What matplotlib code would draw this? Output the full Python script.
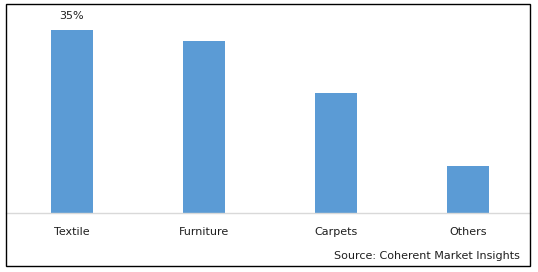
import matplotlib
matplotlib.use("Agg")
import matplotlib.pyplot as plt
from matplotlib.patches import Rectangle

categories = ["Textile", "Furniture", "Carpets", "Others"]
shares = [35, 33, 23, 9]
labelled = {0: "35%"}
source_text = "Source: Coherent Market Insights"

W, H = 538, 272
fig = plt.figure(figsize=(W / 100, H / 100), dpi=100)
fig.patch.set_facecolor("white")

def fx(px):
    return px / W

def fy(py):
    return 1 - py / H

ax = fig.add_axes([fx(6), fy(213), fx(530) - fx(6), fy(4) - fy(213)])
ax.set_facecolor("none")
x = list(range(len(categories)))
bars = ax.bar(x, shares, width=0.32, color="#5B9BD5", zorder=2)
ax.set_xlim(-0.498, 3.47)
ax.set_ylim(0, 40)
ax.set_yticks([])
ax.set_xticks(x)
ax.set_xticklabels(categories, fontsize=8, color="#1F1F1F")
ax.tick_params(axis="x", length=0, pad=10)
for s in ["top", "right", "left"]:
    ax.spines[s].set_visible(False)
ax.spines["bottom"].set_color("#D9D9D9")
ax.spines["bottom"].set_linewidth(1.0)

for i, txt in labelled.items():
    ax.annotate(txt, (x[i], shares[i]), xytext=(0, 6.5), textcoords="offset points",
                ha="center", va="bottom", fontsize=8, color="#1F1F1F")

fig.text(fx(520), fy(256), source_text, ha="right", va="center", fontsize=8, color="#1F1F1F")

fig.add_artist(Rectangle((fx(6), fy(266)), fx(530) - fx(6), fy(4) - fy(266),
                         transform=fig.transFigure, fill=False, edgecolor="black", linewidth=1.0))

fig.savefig("out.png", dpi=100)
